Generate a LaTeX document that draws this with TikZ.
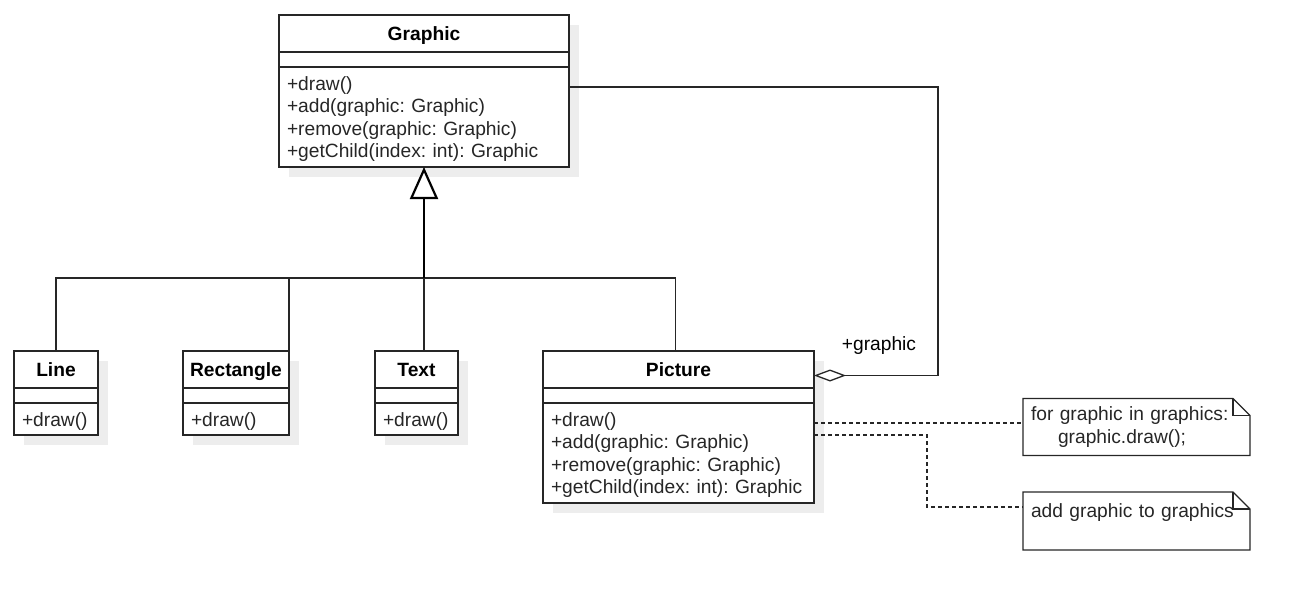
\documentclass[tikz,border=0pt]{standalone}
\usepackage{fontspec}
\setmainfont{Liberation Sans}
\usetikzlibrary{positioning, arrows.meta, backgrounds}

\begin{document}
\frenchspacing
\begin{tikzpicture}[
    x=1pt, y=-1pt, line width=1.3pt, font=\fontsize{19.2}{22.5}\selectfont,
    head/.style={draw=black!85, fill=white, font=\fontsize{19.2}{22.5}\selectfont\bfseries,
                 minimum height=37pt, text height=13.8pt, text depth=0pt, inner sep=0pt, outer sep=0pt},
    attr/.style={draw=black!85, fill=white, minimum height=15pt, inner sep=0pt, outer sep=0pt},
    ops/.style={draw=black!85, fill=white, align=left, inner xsep=8pt, inner ysep=0pt,
                outer sep=0pt, text=black!85, execute at begin node={\rule{0pt}{18pt}}},
    shade/.style={fill=black!7, draw=none},
    isa/.style={-{Triangle[length=32pt, width=28pt, fill=white]}, line width=2.2pt, draw=black},
    agg/.style={-{Diamond[length=32pt, width=12pt, fill=white]}, draw=black!85},
    link/.style={draw=black!85},
    noteline/.style={draw=black!85, dash pattern=on 4pt off 3pt},
    note/.style={minimum width=227pt, minimum height=57pt, inner xsep=8pt, text width=211pt,
                 align=left, outer sep=0pt, text=black!85}
]
\useasboundingbox (0,0) rectangle (1311,610);

% base class
\node[head, minimum width=290pt, anchor=north west] (graphic) at (279,15) {Graphic};
\node[attr, minimum width=290pt, below=0pt of graphic] (graphic-a) {};
\node[ops, text width=274pt, minimum height=100pt, below=0pt of graphic-a] (graphic-m)
     {+draw()\\+add(graphic: Graphic)\\+remove(graphic: Graphic)\\+getChild(index: int): Graphic};

% leaves
\foreach \n/\x/\w/\tw in {Line/14/84/68, Rectangle/183/106/90, Text/375/83/67}{
  \node[head, minimum width=\w pt, anchor=north west] (\n) at (\x,351) {\n};
  \node[attr, minimum width=\w pt, below=0pt of \n] (\n-a) {};
  \node[ops, text width=\tw pt, minimum height=32pt, below=0pt of \n-a] (\n-m) {+draw()};
}

% composite
\node[head, minimum width=271pt, anchor=north west] (picture) at (543,351) {Picture};
\node[attr, minimum width=271pt, below=0pt of picture] (picture-a) {};
\node[ops, text width=255pt, minimum height=100pt, below=0pt of picture-a] (picture-m)
     {+draw()\\+add(graphic: Graphic)\\+remove(graphic: Graphic)\\+getChild(index: int): Graphic};

\begin{scope}[on background layer]
  \foreach \n in {graphic, Line, Rectangle, Text, picture}
    \fill[shade] ([shift={(10,10)}]\n.north west) rectangle ([shift={(10,10)}]\n-m.south east);
\end{scope}

% notes
\node[note] (note1) at (1136.5,427) {for graphic in graphics:\\\hspace*{27pt}graphic.draw();};
\node[note] (note2) at (1136.5,521) {\rule{0pt}{22pt}add graphic to graphics\\\strut};
\foreach \n in {note1, note2}{
  \draw[link] (\n.north west) -- ([xshift=-17pt]\n.north east) -- ([yshift=-17pt]\n.north east)
    -- (\n.south east) -- (\n.south west) -- cycle;
  \draw[link] ([xshift=-17pt]\n.north east) |- ([yshift=-17pt]\n.north east);
}

% generalisation
\coordinate (junc) at ([yshift=-111pt]graphic-m.south);
\draw[link] (Line.north) |- (junc);
\draw[link] (Rectangle.north east) |- (junc);
\draw[link] (Text.north -| junc) -- (junc);
\draw[link] ([xshift=-3pt]picture.north) |- (junc);
\draw[isa] (junc) -- (graphic-m.south);

% aggregation
\draw[agg] ([yshift=-20pt]graphic-m.north east) -- ++(369,0) |- ([yshift=-6pt]picture.east);
\node (role) at (879,346) {+graphic};

% note links
\draw[noteline] ([yshift=-20pt]picture-m.north east) -- ([yshift=4pt]note1.west);
\draw[noteline] ([yshift=-32pt]picture-m.north east) -- ++(113,0) |- ([yshift=14pt]note2.west);
\end{tikzpicture}
\end{document}
